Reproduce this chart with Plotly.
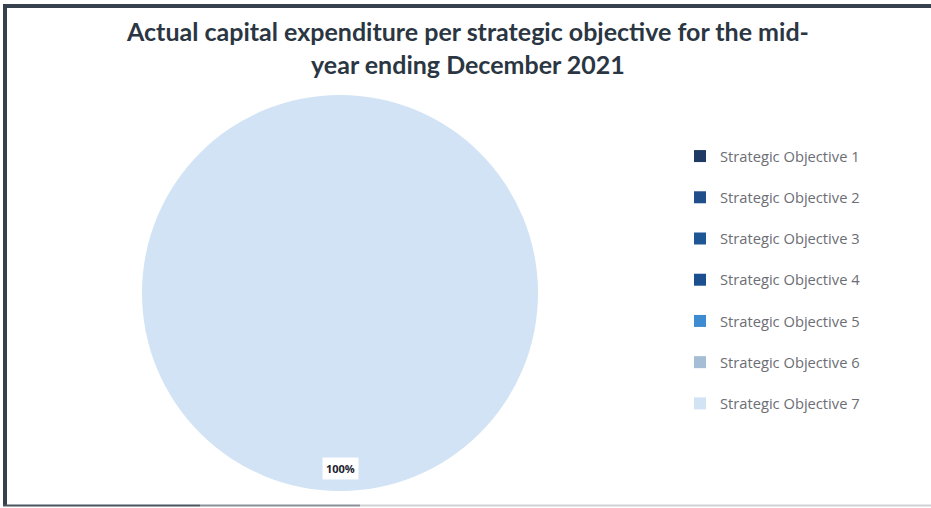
import plotly.graph_objects as go

W, H = 931, 508

categories = [f"Strategic Objective {i}" for i in range(1, 8)]
values = [0, 0, 0, 0, 0, 0, 100]
colors = ["#1f3a64", "#1f4e8a", "#1e5594", "#1b4f8f", "#3d8bd0", "#a5bdd5", "#d1e3f4"]
title_text = "Actual capital expenditure per strategic objective for the mid-<br>year ending December 2021"

def px_x(p):
    return p / W

def px_y(p):
    return 1 - p / H

# pie circle: centre (340, 293), radius 198
cx, cy, r = 340, 293, 198

fig = go.Figure()
fig.add_trace(go.Pie(
    labels=[c + "<br> " for c in categories],
    values=values,
    marker=dict(colors=colors, line=dict(width=0)),
    sort=False,
    direction="clockwise",
    textinfo="none",
    hoverinfo="label+percent",
    domain=dict(x=[px_x(cx - r), px_x(cx + r)], y=[px_y(cy + r), px_y(cy - r)]),
    showlegend=True,
))

total = sum(values)
pct_labels = [f"{round(100 * v / total)}%" for v in values if v > 0]

fig.add_annotation(
    x=px_x(cx), y=px_y(468), xref="paper", yref="paper", yanchor="middle",
    text="<b>" + pct_labels[0] + "</b>", showarrow=False,
    font=dict(family="Open Sans", size=11, color="#1c2230"),
    bgcolor="white", borderpad=3,
)

# title
fig.add_annotation(
    x=px_x(468), y=px_y(14), xref="paper", yref="paper", xanchor="center", yanchor="top",
    text="<b>" + title_text + "</b>", showarrow=False, align="center",
    font=dict(family="Lato", size=25, color="#2b3643"),
)

# frame lines
fig.add_shape(type="line", xref="paper", yref="paper", x0=px_x(3), x1=1, y0=px_y(6), y1=px_y(6),
              line=dict(color="#36414d", width=4))
fig.add_shape(type="line", xref="paper", yref="paper", x0=px_x(5), x1=px_x(5), y0=px_y(6), y1=px_y(506),
              line=dict(color="#36414d", width=4))
fig.add_shape(type="line", xref="paper", yref="paper", x0=px_x(3), x1=px_x(200), y0=px_y(505.5), y1=px_y(505.5),
              line=dict(color="#4a545e", width=2))
fig.add_shape(type="line", xref="paper", yref="paper", x0=px_x(200), x1=px_x(360), y0=px_y(505.5), y1=px_y(505.5),
              line=dict(color="#8a9098", width=2))
fig.add_shape(type="line", xref="paper", yref="paper", x0=px_x(360), x1=1, y0=px_y(505.5), y1=px_y(505.5),
              line=dict(color="#cfd1d3", width=2))

fig.update_layout(
    width=W, height=H,
    margin=dict(l=0, r=0, t=0, b=0),
    paper_bgcolor="white",
    plot_bgcolor="white",
    legend=dict(x=px_x(680), xanchor="left", y=px_y(140), yanchor="top",
                font=dict(family="Open Sans", size=14.7, color="#6b6e74"),
                valign="top", bgcolor="rgba(0,0,0,0)"),
)

fig.write_html("out.html")
